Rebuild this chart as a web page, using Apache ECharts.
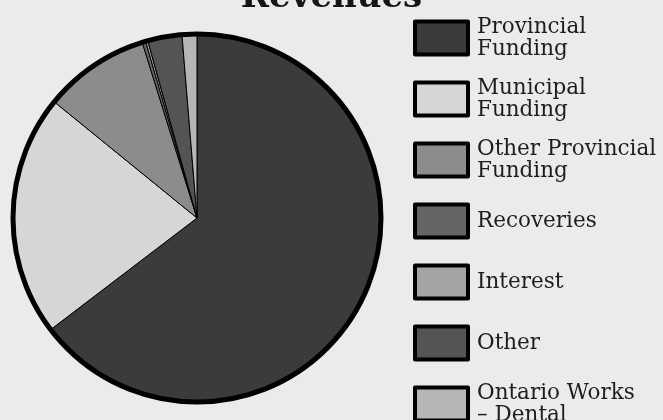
<!DOCTYPE html>
<html>
<head>
<meta charset="utf-8">
<script src="https://cdn.jsdelivr.net/npm/echarts@6/dist/echarts.min.js"></script>
<style>
  html, body { margin: 0; padding: 0; background: #ebebea; }
  #chart { width: 663px; height: 420px; }
</style>
</head>
<body>
<div id="chart"></div>
<script>
// revenue categories, in legend order
const categories = [
  'Provincial\nFunding',
  'Municipal\nFunding',
  'Other Provincial\nFunding',
  'Recoveries',
  'Interest',
  'Other',
  'Ontario Works\n– Dental'
]
// share of total revenue (%)
const shares = [64.5, 21.2, 9.3, 0.3, 0.2, 3.0, 1.3]
const sliceColors = ['#3b3b3d', '#d6d6d6', '#8c8c8c', '#656565', '#a4a4a4', '#545454', '#b6b6b6']

const chart = echarts.init(document.getElementById('chart'))

const font = '"DejaVu Serif", serif'

chart.setOption({
  backgroundColor: '#ebebea',
  animation: false,
  title: {
    text: 'Revenues',
    left: 'center',
    top: -24,
    textStyle: { fontFamily: font, fontSize: 34, fontWeight: 'bold', color: '#151515' }
  },
  legend: {
    orient: 'vertical',
    left: 408,
    top: 11,
    height: 600,
    icon: 'rect',
    itemWidth: 53,
    itemHeight: 33,
    itemGap: 17,
    data: categories,
    itemStyle: { borderColor: '#000', borderWidth: 4 },
    textStyle: {
      fontFamily: font,
      fontSize: 21.5,
      lineHeight: 22,
      height: 44,
      color: '#1e1e1e',
      padding: [0, 0, 0, 4]
    }
  },
  series: [
    {
      type: 'pie',
      center: [197, 218],
      radius: 184,
      startAngle: 90,
      clockwise: true,
      label: { show: false },
      labelLine: { show: false },
      emphasis: { disabled: true },
      itemStyle: { borderColor: '#000', borderWidth: 1 },
      data: categories.map((name, i) => ({
        name,
        value: shares[i],
        itemStyle: { color: sliceColors[i] }
      }))
    },
    {
      // thick outer rim
      type: 'pie',
      center: [197, 218],
      radius: 184,
      silent: true,
      z: 3,
      label: { show: false },
      labelLine: { show: false },
      itemStyle: { color: 'none', borderColor: '#000', borderWidth: 5 },
      data: [{ name: 'rim', value: 1 }]
    }
  ]
})
</script>
</body>
</html>
